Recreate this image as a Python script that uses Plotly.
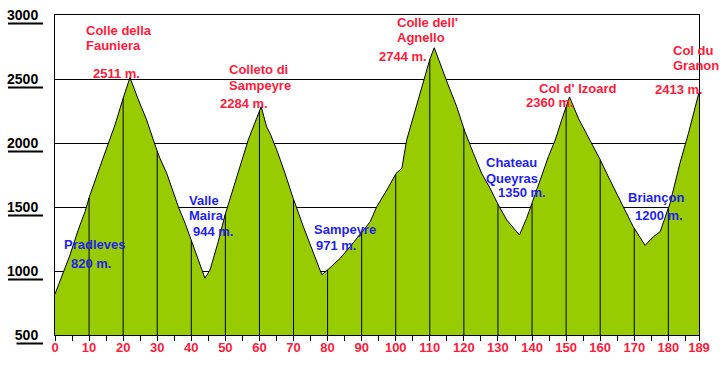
import numpy as np
import plotly.graph_objects as go

# ---- data ----
km = [0, 1.5, 2.9, 4.4, 6.8, 8.8, 10.1, 13.2, 15.2, 17.6, 19.9, 22.0, 24.5, 26.9, 29.6,
      30.8, 32.8, 34.7, 36.2, 38.2, 40.1, 42.1, 44.0, 45.5, 47.9, 49.9, 51.9, 54.3, 56.7,
      60.5, 62.1, 63.1, 65.1, 67.5, 69.9, 72.9, 75.8, 78.3, 80.2, 83.7, 86.6, 90.0, 92.5,
      94.4, 97.4, 100.1, 101.8, 103.2, 105.7, 108.1, 110.1, 111.3, 113.5, 115.4, 117.9,
      120.3, 122.8, 125.2, 127.7, 130.1, 132.6, 136.3, 138.4, 140.2, 142.4, 144.8, 146.8,
      148.7, 151.0, 153.6, 157.0, 160.0, 161.9, 163.9, 166.8, 169.7, 173.2, 175.6, 177.6,
      180.5, 183.4, 185.9, 189.0]
elev = [820, 930, 1021, 1125, 1320, 1463, 1580, 1815, 1971, 2141, 2341, 2511, 2336, 2180, 1966,
        1880, 1763, 1607, 1502, 1372, 1229, 1086, 944, 1008, 1229, 1437, 1607, 1815, 2023,
        2284, 2127, 2076, 1945, 1763, 1568, 1346, 1138, 971, 1013, 1099, 1190, 1307, 1385,
        1502, 1633, 1763, 1802, 2023, 2258, 2492, 2662, 2744, 2596, 2453, 2284,
        2088, 1919, 1763, 1646, 1516, 1398, 1281, 1411, 1541, 1711, 1893, 2023,
        2180, 2360, 2193, 2023, 1870, 1763, 1659, 1502, 1346, 1200, 1268, 1307,
        1529, 1841, 2076, 2395]

x_ticks = [0, 10, 20, 30, 40, 50, 60, 70, 80, 90, 100, 110, 120, 130, 140, 150, 160, 170, 180, 189]
x_tick_text = [str(v) for v in x_ticks]
y_ticks = [500, 1000, 1500, 2000, 2500, 3000]
y_tick_text = [str(v) for v in y_ticks]

peak_names = ["Colle della<br>Fauniera", "Colleto di<br>Sampeyre", "Colle dell'<br>Agnello",
              "Col d' Izoard", "Col du<br>Granon"]
peak_heights = ["2511 m.", "2284 m.", "2744 m.", "2360 m.", "2413 m."]
town_names = ["Pradleves", "Valle<br>Maira", "Sampeyre", "Chateau<br>Queyras", "Briançon"]
town_heights = ["820 m.", "944 m.", "971 m.", "1350 m.", "1200 m."]

# ---- layout geometry (pixels) ----
W, H = 723, 366
L, R, T, B = 55, 699, 15, 335
X0, X1 = 0, 189
Y0, Y1 = 500, 3000


def px_km(x):
    return X0 + (x - L) * (X1 - X0) / (R - L)


def py_m(y):
    return Y0 + (B - y) * (Y1 - Y0) / (B - T)


RED = "#FF1A3A"
BLUE = "#1F1FF0"
FONT = "Liberation Sans, Arial, sans-serif"

fig = go.Figure()

fig.add_trace(go.Scatter(x=km, y=elev, mode="lines", fill="tozeroy",
                         fillcolor="#99CC00", line=dict(color="black", width=1),
                         hoverinfo="skip", showlegend=False))

# vertical lines every 10 km up to the profile
vx, vy = [], []
for k in range(10, 190, 10):
    top = float(np.interp(k, km, elev))
    vx += [k, k, None]
    vy += [Y0, top, None]
fig.add_trace(go.Scatter(x=vx, y=vy, mode="lines", line=dict(color="black", width=1),
                         hoverinfo="skip", showlegend=False))

ann = []


def label(text, x, y, color, bold=True, size=13):
    t = "<b>%s</b>" % text if bold else text
    ann.append(dict(text=t, x=px_km(x), y=py_m(y), xref="x", yref="y",
                    xanchor="left", yanchor="middle", showarrow=False,
                    font=dict(color=color, size=size, family=FONT)))


peak_name_pos = [[(84, 30), (84, 45)], [(227, 69), (227, 85)], [(395, 22), (395, 37)],
                 [(537, 88)], [(671, 50), (671, 65)]]
peak_h_pos = [(91, 73), (218, 103), (377, 56), (524, 102), (653, 89)]
for name, h, npos, hpos in zip(peak_names, peak_heights, peak_name_pos, peak_h_pos):
    for line, (x, y) in zip(name.split("<br>"), npos):
        label(line, x, y, RED)
    label(h, hpos[0], hpos[1], RED)

town_name_pos = [[(62, 244)], [(187, 200), (187, 215)], [(312, 229)],
                 [(484, 162), (484, 178)], [(626, 197)]]
town_h_pos = [(69, 263), (191, 231), (314, 245), (496, 192), (633, 215)]
for name, h, npos, hpos in zip(town_names, town_heights, town_name_pos, town_h_pos):
    for line, (x, y) in zip(name.split("<br>"), npos):
        label(line, x, y, BLUE)
    label(h, hpos[0], hpos[1], BLUE)

# underlines under y tick labels
shapes = []
for v, txt in zip(y_ticks, y_tick_text):
    ypx = B - (v - Y0) * (B - T) / (Y1 - Y0) + 8.5
    x0 = 42 - 8.5 * len(txt)
    shapes.append(dict(type="line", xref="paper", yref="paper",
                       x0=(x0 - L) / (R - L), x1=(43 - L) / (R - L),
                       y0=(B - ypx) / (B - T), y1=(B - ypx) / (B - T),
                       line=dict(color="black", width=2)))

fig.update_layout(
    width=W, height=H,
    margin=dict(l=L, r=W - R, t=T, b=H - B, pad=0, autoexpand=False),
    paper_bgcolor="white", plot_bgcolor="white",
    annotations=ann, shapes=shapes,
    xaxis=dict(range=[X0, X1], tickvals=x_ticks,
               ticktext=["<b>%s</b>" % t for t in x_tick_text],
               automargin=False,
               showgrid=False, zeroline=False, showline=True, mirror=True,
               linecolor="black", linewidth=1, ticks="outside", ticklen=5,
               tickcolor="black", tickwidth=1,
               minor=dict(tick0=0, dtick=5, ticks="outside", ticklen=5,
                          tickcolor="black", tickwidth=1),
               tickfont=dict(color=RED, size=13, family=FONT),
               ticklabelstandoff=-5),
    yaxis=dict(range=[Y0, Y1], tickvals=y_ticks,
               ticktext=["<b>%s</b>" % t for t in y_tick_text],
               automargin=False,
               showgrid=True, gridcolor="black", gridwidth=1, zeroline=False,
               showline=True, mirror=True, linecolor="black", linewidth=1,
               ticks="", tickfont=dict(color="black", size=14, family=FONT),
               ticklabelstandoff=13),
)

fig.write_html("out.html", config={"displayModeBar": False},
               post_script="document.body.style.margin='0';document.body.style.overflow='hidden';")
